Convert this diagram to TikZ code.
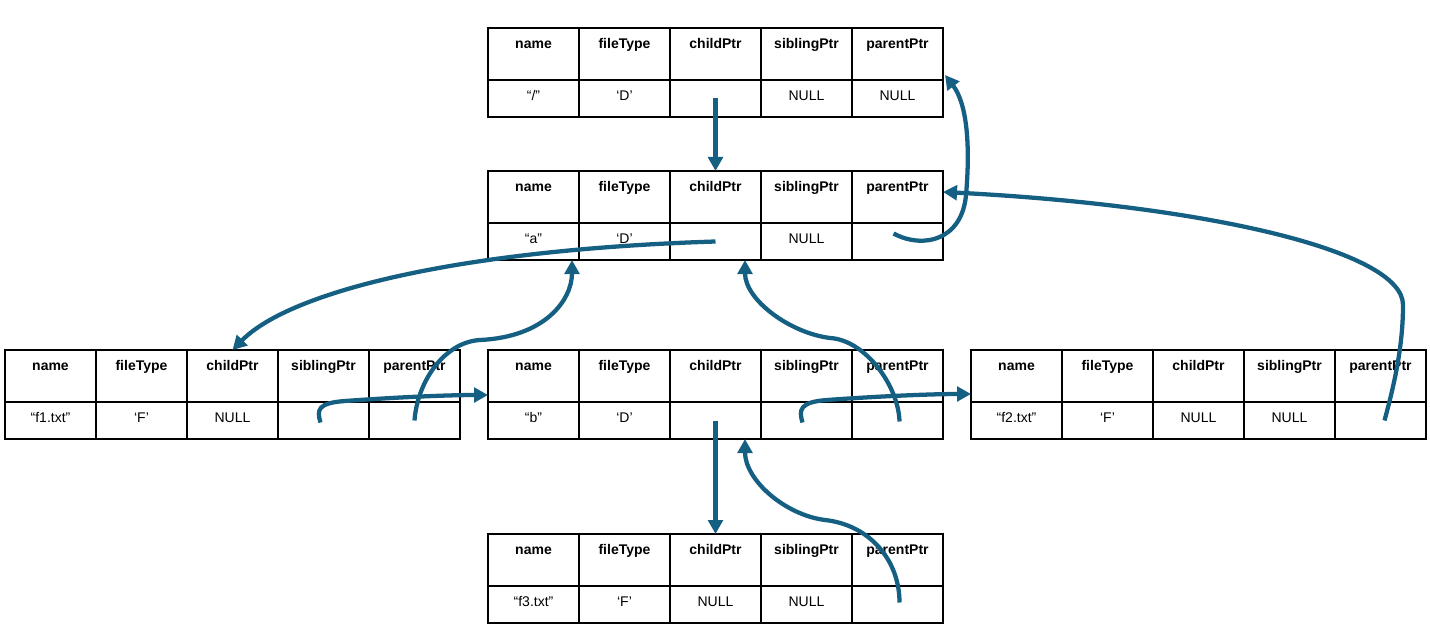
\documentclass[tikz,border=0pt]{standalone}
\usepackage{fontspec}
\setmainfont{Liberation Sans}
\usetikzlibrary{arrows.meta,positioning,calc}
\definecolor{ptrblue}{HTML}{156082}

\tikzset{
  cell/.style={draw, line width=1pt, minimum width=68.25pt, inner sep=0pt, outer sep=0pt, anchor=north west, font=\fontsize{10.5}{12}\selectfont},
  headcell/.style={cell, font=\fontsize{10.5}{12}\selectfont\bfseries, text height=15.4pt, text depth=23.6pt},
  valcell/.style={cell, text height=15.5pt, text depth=12.25pt},
  ptr/.style={ptrblue, line width=3.2pt, -{Triangle[length=10.5pt,width=11pt]}},
}

% id, x, y, name, fileType, childPtr, siblingPtr, parentPtr
\newcommand{\fsentry}[8]{%
  \foreach \lbl [count=\col] in {name,fileType,childPtr,siblingPtr,parentPtr}
    \node[headcell] (#1-h\col) at (#2+91*\col-91,#3) {\lbl};
  \foreach \val [count=\col] in {{#4},{#5},{#6},{#7},{#8}}
    \node[valcell] (#1-v\col) at (#2+91*\col-91,#3+52) {\val};
}

\begin{document}
\begin{tikzpicture}[x=0.75pt,y=0.75pt,yscale=-1,xscale=1]
\useasboundingbox (0,0) rectangle (1430,638);

%Shape: Tables
\fsentry{root}{488}{28}{“/”}{‘D’}{}{NULL}{NULL}
\fsentry{a}{488}{171}{“a”}{‘D’}{}{NULL}{}
\fsentry{f1}{5}{350}{“f1.txt”}{‘F’}{NULL}{}{}
\fsentry{b}{488}{350}{“b”}{‘D’}{}{}{}
\fsentry{f2}{971}{350}{“f2.txt”}{‘F’}{NULL}{NULL}{}
\fsentry{f3}{488}{534}{“f3.txt”}{‘F’}{NULL}{NULL}{}

%Straight Lines: childPtr
\draw[ptr] (root-v3.center) -- (a-h3.north);
\draw[ptr] (b-v3.center) -- (f3-h3.north);

%Curve Lines: childPtr of a
\draw[ptr] (a-v3.center) .. controls +(-255,8) and +(58,-59) .. (f1-h3.north);

%Curve Lines: siblingPtr
\draw[ptr] ($(f1-v4.center)+(-3,2)$) .. controls +(-4,-13) and +(-27,2) .. (345,401) .. controls +(55,-4) and +(-38,0) .. ($(b-h1.south west)+(0,-7)$);
\draw[ptr] ($(b-v4.center)+(-4,2)$) .. controls +(-4,-13) and +(-27,2) .. (827,400) .. controls +(55,-4) and +(-38,0) .. ($(f2-h1.south west)+(0,-8)$);

%Curve Lines: parentPtr
\draw[ptr] ($(a-v5.center)+(-4,-8)$) .. controls +(30,16) and +(-4,45) .. (966,195) .. controls +(4,-45) and +(23,30) .. ($(root-h5.south east)+(2,-5)$);
\draw[ptr] ($(f2-v5.center)+(4,0)$) .. controls +(8,-30) and +(0,45) .. (1403,305) .. controls +(0,-55) and +(258,13) .. ($(a-h5.east)+(0,-5)$);
\draw[ptr] (f1-v5.center) .. controls +(3,-40) and +(-35,2) .. (480,340) .. controls +(65,-3) and +(0,40) .. ($(a-v1.south east)+(-7,0)$);
\draw[ptr] ($(b-v5.center)+(2,1)$) .. controls +(-1,-36) and +(35,2) .. (830,338) .. controls +(-40,-5) and +(0,40) .. ($(a-v3.south east)+(-16,0)$);
\draw[ptr] ($(f3-v5.center)+(2,-2)$) .. controls +(0,-42) and +(45,5) .. (825,520) .. controls +(-40,-5) and +(0,41) .. ($(b-v3.south east)+(-16,0)$);

\end{tikzpicture}
\end{document}
